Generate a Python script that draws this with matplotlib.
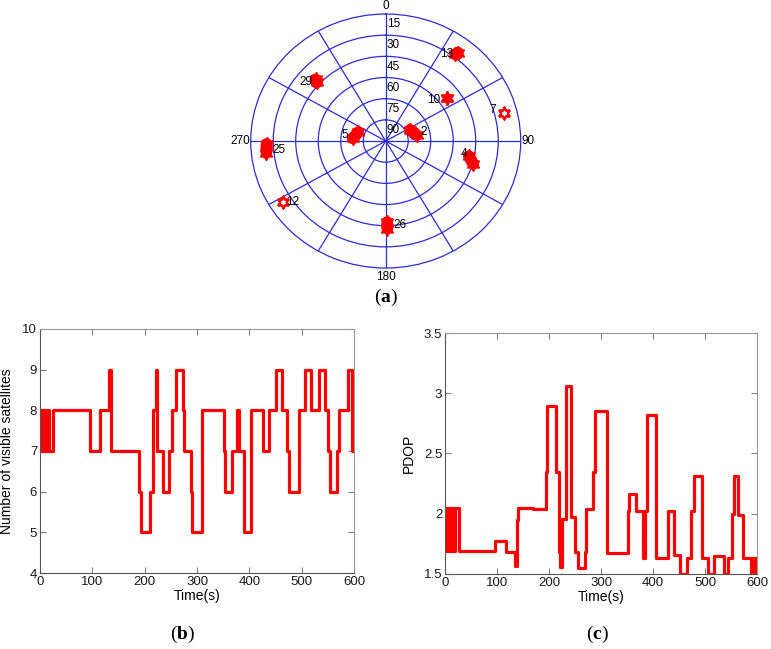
import numpy as np
import matplotlib
matplotlib.use('Agg')
import matplotlib.pyplot as plt

plt.rcParams['font.family'] = ['Liberation Sans', 'DejaVu Sans']
plt.rcParams['mathtext.fontset'] = 'custom'
plt.rcParams['mathtext.rm'] = 'Liberation Serif'
plt.rcParams['mathtext.bf'] = 'Liberation Serif:bold'

# sky plot: PRN, azimuth / elevation at start and end of the 600 s
prn = [13, 29, 10, 7, 5, 2, 25, 4, 12, 26]
az_start = [37.5, 313, 53, 76, 275, 64, 268.5, 101, 238, 179]
az_end = [37, 312, 53, 76, 288.5, 78.5, 264, 105.5, 238, 179]
el_start = [11, 26, 39, 9, 68, 72, 10.5, 33.5, 9, 32.5]
el_end = [13, 28, 39, 9, 70.5, 69, 10, 29.5, 9, 28]
hollow = [7, 12]

elev_rings = [15, 30, 45, 60, 75, 90]
az_labels = ['0', '90', '180', '270']

# number of visible satellites (step changes)
t_sats = [0, 2, 4, 6, 8, 10, 12, 14, 16, 18, 25, 95, 114, 131, 136, 189, 193, 211, 215,
          221, 224, 235, 246, 252, 260, 273, 275, 288, 291, 309, 351, 354, 367, 377, 380,
          389, 404, 427, 438, 451, 463, 471, 476, 495, 506, 518, 533, 545, 550, 555, 567,
          572, 588, 596, 600]
n_sats = [8, 7, 8, 7, 8, 7, 8, 7, 8, 7, 8, 7, 8, 9, 7, 6, 5, 6, 8,
          9, 7, 6, 7, 8, 9, 8, 7, 6, 5, 8, 7, 6, 7, 8, 7,
          5, 8, 7, 8, 9, 8, 7, 6, 8, 9, 8, 9, 8, 7, 6, 7,
          8, 9, 7, 7]

# PDOP (step changes)
t_pdop = [0, 2, 4, 6, 8, 10, 12, 14, 16, 18, 20, 27, 96, 117, 135, 139, 141, 170, 195,
          197, 213, 219, 222, 225, 233, 243, 249, 255, 269, 272, 285, 289, 311, 352, 354,
          368, 381, 384, 389, 405, 428, 441, 452, 465, 473, 478, 495, 506, 517, 536, 545,
          551, 555, 564, 573, 588, 590, 592, 594, 596, 598, 600]
pdop = [2.05, 1.69, 2.05, 1.69, 2.05, 1.69, 2.05, 1.69, 2.05, 1.69, 2.05, 1.69, 1.77, 1.68,
        1.57, 1.95, 2.05, 2.04, 2.35, 2.89, 2.35, 1.68, 1.56, 1.96, 3.06, 1.97, 1.68, 1.55,
        1.68, 2.04, 2.35, 2.85, 1.67, 2.02, 2.16, 2.02, 1.63, 2.02, 2.82, 1.63, 2.02, 1.66,
        1.5, 1.63, 2.02, 2.31, 1.63, 1.5, 1.65, 1.5, 1.63, 2.0, 2.31, 1.99, 1.63, 1.5, 1.63,
        1.5, 1.63, 1.5, 1.63, 1.63]

blue = '#2b2bd6'
red = '#ff0000'

fig = plt.figure(figsize=(7.71, 6.49), dpi=100)

# ---- (a) sky plot
ax = fig.add_axes([0.3252, 0.587, 0.3502, 0.3914], projection='polar')
ax.set_theta_zero_location('N')
ax.set_theta_direction(-1)
ax.set_ylim(0, 90)
ax.set_yticks([15, 30, 45, 60, 75])
ax.set_xticks(np.deg2rad(np.arange(0, 360, 30)))
ax.set_xticklabels([])
ax.set_yticklabels([])
ax.grid(True, color=blue, lw=0.9, ls='-')
ax.spines['polar'].set_color(blue)
ax.spines['polar'].set_linewidth(0.9)
ax.set_aspect('auto')

for e in elev_rings:
    ax.annotate(str(e), xy=(0, 90 - e), xytext=(1, 11), textcoords='offset pixels',
                ha='left', va='center', fontsize=8.5, annotation_clip=False)

az_pos = [(0, 0, 8, 'center'), (90, 1, 0, 'left'), (180, 0, -9, 'center'), (270, -1, 0, 'right')]
for lab, (a, dx, dy, ha) in zip(az_labels, az_pos):
    ax.annotate(lab, xy=(np.deg2rad(a), 90), xytext=(dx, dy), textcoords='offset pixels',
                ha=ha, va='center', fontsize=8.5, annotation_clip=False)

star6 = (6, 1, 0)
label_off = {13: (-3, -1, 'right'), 29: (-4, -1, 'right'), 10: (-7, -2, 'right'),
             7: (-8, 3, 'right'), 5: (-7, 0, 'right'), 2: (7, 0, 'left'),
             25: (6, -2, 'left'), 4: (-4, 6, 'right'), 12: (3, 0, 'left'), 26: (6, 0, 'left')}
for i, p in enumerate(prn):
    th = np.deg2rad([az_start[i], az_end[i]])
    rr = [90 - el_start[i], 90 - el_end[i]]
    if p in hollow:
        ax.plot(th, rr, ls='none', marker=star6, ms=9, mfc='none', mec=red, mew=1.5)
    else:
        ax.plot(th, rr, color=red, lw=8.5, solid_capstyle='round', marker=star6,
                ms=10, mfc=red, mec=red, mew=1.2)
    dx, dy, ha = label_off[p]
    ax.annotate(str(p), xy=(th.mean(), np.mean(rr)), xytext=(dx, dy),
                textcoords='offset pixels', ha=ha, va='center', fontsize=8.5)

fig.text(0.5003, 0.541, r'$\mathrm{(}\mathbf{a}\mathrm{)}$', ha='center', va='center', fontsize=14)


def style_axes(a):
    for s in ['left', 'bottom']:
        a.spines[s].set_color('#555555')
    for s in ['top', 'right']:
        a.spines[s].set_color('#9a9a9a')
    for s in a.spines.values():
        s.set_linewidth(0.8)
    a.tick_params(direction='in', length=4, top=True, right=True, labelsize=9.5,
                  color='#808080', labelcolor='#1a1a1a', pad=2)


# ---- (b) visible satellites
axb = fig.add_axes([0.0519, 0.1171, 0.4073, 0.376])
axb.plot(t_sats, n_sats, color=red, lw=2.3, drawstyle='steps-post')
axb.set_xlim(0, 600)
axb.set_ylim(4, 10)
axb.set_xticks(range(0, 601, 100))
axb.set_yticks(range(4, 11))
axb.set_xlabel('Time(s)', fontsize=10, labelpad=1)
axb.set_ylabel('Number of visible satellites', fontsize=10, labelpad=6)
style_axes(axb)
fig.text(0.2374, 0.023, r'$\mathrm{(}\mathbf{b}\mathrm{)}$', ha='center', va='center', fontsize=14)

# ---- (c) PDOP
axc = fig.add_axes([0.5772, 0.1156, 0.4047, 0.3713])
axc.plot(t_pdop, pdop, color=red, lw=2.3, drawstyle='steps-post')
axc.set_xlim(0, 600)
axc.set_ylim(1.5, 3.5)
axc.set_xticks(range(0, 601, 100))
axc.set_yticks([1.5, 2, 2.5, 3, 3.5])
axc.set_yticklabels(['1.5', '2', '2.5', '3', '3.5'])
axc.set_xlabel('Time(s)', fontsize=10, labelpad=1)
axc.set_ylabel('PDOP', fontsize=10, labelpad=6)
style_axes(axc)
fig.text(0.7743, 0.023, r'$\mathrm{(}\mathbf{c}\mathrm{)}$', ha='center', va='center', fontsize=14)

fig.savefig('out.png', dpi=100)
